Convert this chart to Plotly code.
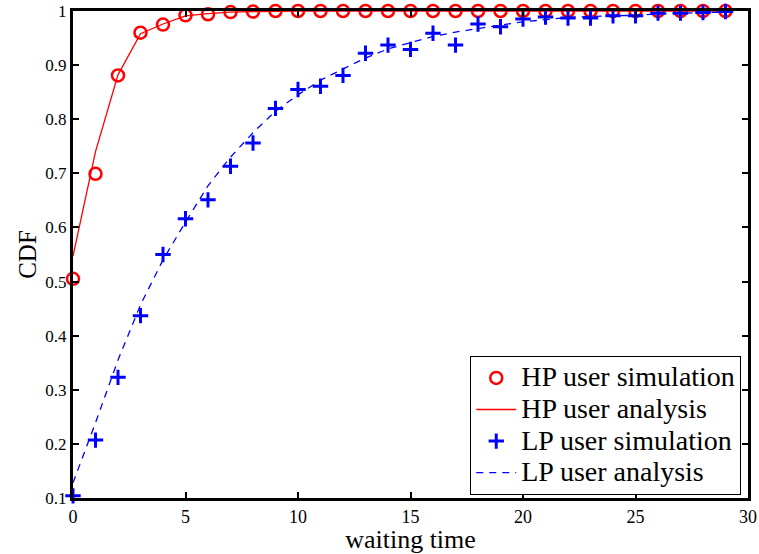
import plotly.graph_objects as go

# waiting time slots
t = list(range(30))

# high-priority users
hp_sim = [0.505, 0.699, 0.881, 0.960, 0.975, 0.992, 0.994, 0.998, 0.999, 1.0,
          1.0, 1.0, 1.0, 1.0, 1.0, 1.0, 1.0, 1.0, 1.0, 1.0,
          1.0, 1.0, 1.0, 1.0, 1.0, 1.0, 1.0, 1.0, 1.0, 1.0]
hp_ana = [0.547, 0.740, 0.882, 0.958, 0.976, 0.991, 0.995, 0.998, 0.999, 1.0,
          1.0, 1.0, 1.0, 1.0, 1.0, 1.0, 1.0, 1.0, 1.0, 1.0,
          1.0, 1.0, 1.0, 1.0, 1.0, 1.0, 1.0, 1.0, 1.0, 1.0]

# low-priority users
lp_sim = [0.104, 0.207, 0.323, 0.437, 0.550, 0.616, 0.651, 0.713, 0.756, 0.820,
          0.855, 0.861, 0.881, 0.922, 0.937, 0.929, 0.959, 0.937, 0.976, 0.971,
          0.985, 0.989, 0.987, 0.987, 0.991, 0.991, 0.996, 0.996, 0.997, 0.999]
lp_ana = [0.128, 0.239, 0.355, 0.457, 0.540, 0.610, 0.677, 0.730, 0.775, 0.815,
          0.845, 0.872, 0.893, 0.913, 0.930, 0.941, 0.953, 0.961, 0.968, 0.974,
          0.980, 0.984, 0.988, 0.990, 0.991, 0.992, 0.995, 0.996, 0.997, 0.998]

series_names = ["HP user simulation", "HP user analysis",
                "LP user simulation", "LP user analysis"]

x_ticks = [0, 5, 10, 15, 20, 25, 30]
y_ticks = [0.1, 0.2, 0.3, 0.4, 0.5, 0.6, 0.7, 0.8, 0.9, 1.0]
y_tick_text = ["0.1", "0.2", "0.3", "0.4", "0.5", "0.6", "0.7", "0.8", "0.9", "1"]

RED = "#ff0000"
BLUE = "#0000ff"
FONT = "Liberation Serif"


def legend_label(text):
    # larger glyphs than the legend's base size keep the rows tightly packed
    return f'<span style="font-size:28px">{text}</span>'


fig = go.Figure()
fig.add_trace(go.Scatter(
    x=t, y=hp_sim, mode="markers", name=legend_label(series_names[0]),
    marker=dict(symbol="circle-open", size=12, color=RED, line=dict(width=2.5, color=RED)),
    cliponaxis=False,
))
fig.add_trace(go.Scatter(
    x=t, y=hp_ana, mode="lines", name=legend_label(series_names[1]),
    line=dict(color=RED, width=1.3),
))
fig.add_trace(go.Scatter(
    x=t, y=lp_sim, mode="markers", name=legend_label(series_names[2]),
    marker=dict(symbol="cross-thin", size=11, color=BLUE, line=dict(width=3, color=BLUE)),
    cliponaxis=False,
))
fig.add_trace(go.Scatter(
    x=t, y=lp_ana, mode="lines", name=legend_label(series_names[3]),
    line=dict(color=BLUE, width=1.3, dash="7px,6px"),
))

axis_common = dict(
    showline=True, linecolor="black", linewidth=3, mirror="ticks",
    ticks="inside", ticklen=6, tickwidth=2, tickcolor="black",
    showgrid=False, zeroline=False, automargin=False,
)

fig.update_layout(
    width=759, height=554,
    margin=dict(l=73, r=11, t=11, b=56),
    paper_bgcolor="white", plot_bgcolor="white",
    font=dict(family=FONT, color="black"),
    xaxis=dict(
        range=[0, 30], tickvals=x_ticks,
        tickfont=dict(family=FONT, size=18, color="black"),
        title=dict(text="waiting time", font=dict(family=FONT, size=26), standoff=3),
        **axis_common,
    ),
    yaxis=dict(
        range=[0.1, 1.0], tickvals=y_ticks, ticktext=y_tick_text,
        tickfont=dict(family=FONT, size=17, color="black"),
        title=dict(text="CDF", font=dict(family=FONT, size=25), standoff=2),
        **axis_common,
    ),
    legend=dict(
        x=0.99, y=0.006, xanchor="right", yanchor="bottom",
        bgcolor="white", bordercolor="black", borderwidth=1,
        font=dict(family=FONT, size=22, color="black"),
        tracegroupgap=0, itemwidth=40,
    ),
    showlegend=True,
)

fig.write_html("out.html")
